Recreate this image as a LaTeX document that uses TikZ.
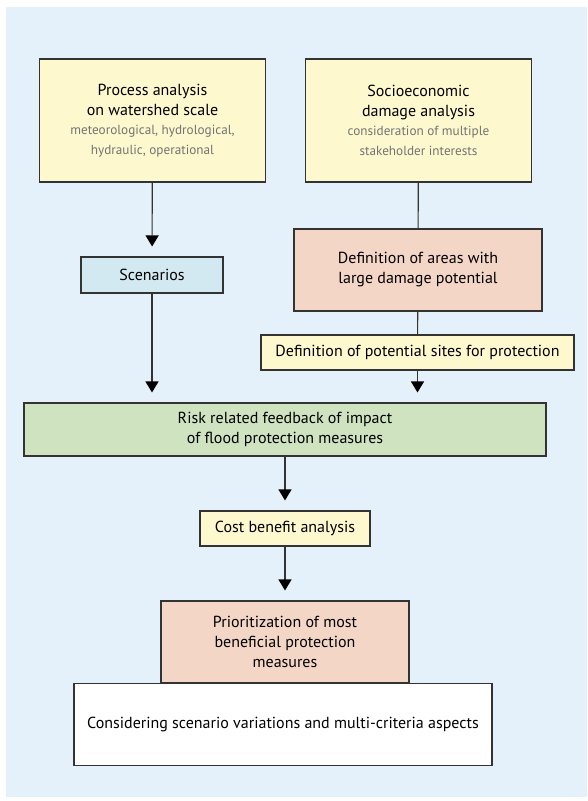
\documentclass[tikz,border=0pt]{standalone}
\usepackage{fontspec}
\setmainfont{PT Sans}
\usetikzlibrary{arrows.meta}
\definecolor{bgblue}{HTML}{E4F1FA}
\definecolor{boxyellow}{HTML}{FDF8CE}
\definecolor{boxblue}{HTML}{D2E9F1}
\definecolor{boxsalmon}{HTML}{F4D6C7}
\definecolor{boxgreen}{HTML}{CFE3C1}
\definecolor{linegray}{HTML}{333333}
\newcommand{\subfont}{\fontsize{13.2}{16}\selectfont\color{black!55}}
\begin{document}
\begin{tikzpicture}[x=1pt, y=-1pt,
    box/.style={draw=linegray, line width=1.1pt, align=center, inner sep=0pt,
      font=\fontsize{16}{20}\selectfont},
    flow/.style={draw=linegray, line width=1.1pt},
    arr/.style={flow, -{Triangle[length=11pt, width=13pt, color=black]}, shorten >=10pt}]
    \useasboundingbox (0,0) rectangle (587,801);
    \fill[bgblue] (6,7) rectangle (587,797);
    % top row
    \node[box, fill=boxyellow, minimum width=226pt, minimum height=123pt] (process) at (152.5,120.5)
      {Process analysis\\on watershed scale\\[-1pt]\subfont meteorological, hydrological,\\\subfont hydraulic, operational};
    \node[box, fill=boxyellow, minimum width=226pt, minimum height=123pt] (damage) at (418.5,120.5)
      {Socioeconomic\\damage analysis\\[-1pt]\subfont consideration of multiple\\\subfont stakeholder interests};
    \node[box, fill=boxblue, minimum width=142pt, minimum height=36pt] (scenarios) at (152,275) {Scenarios};
    \node[box, fill=boxsalmon, minimum width=248pt, minimum height=82pt] (areas) at (418,270)
      {Definition of areas with\\large damage potential};
    \node[box, fill=boxyellow, minimum width=313pt, minimum height=35pt] (sites) at (417.5,352.5)
      {Definition of potential sites for protection};
    % lower part
    \node[box, fill=boxgreen, minimum width=522pt, minimum height=53pt] (risk) at (285,429.5)
      {Risk related feedback of impact\\of flood protection measures};
    \node[box, fill=boxyellow, minimum width=170pt, minimum height=35pt] (cost) at (285,528.5) {Cost benefit analysis};
    \node[box, fill=boxsalmon, minimum width=248pt, minimum height=82pt] (prior) at (285,642)
      {Prioritization of most\\beneficial protection\\measures};
    \node[box, fill=white, minimum width=418pt, minimum height=82pt, anchor=north] (consider) at (283,683)
      {Considering scenario variations and multi-criteria aspects};
    % connectors
    \draw[arr] (process) -- (scenarios);
    \draw[flow] (damage) -- (areas);
    \draw[flow] (areas) -- (sites);
    \draw[arr] (scenarios) -- (scenarios |- risk.north);
    \draw[arr] (sites) -- (sites |- risk.north);
    \draw[arr] (risk) -- (cost);
    \draw[arr] (cost) -- (prior);
\end{tikzpicture}
\end{document}
